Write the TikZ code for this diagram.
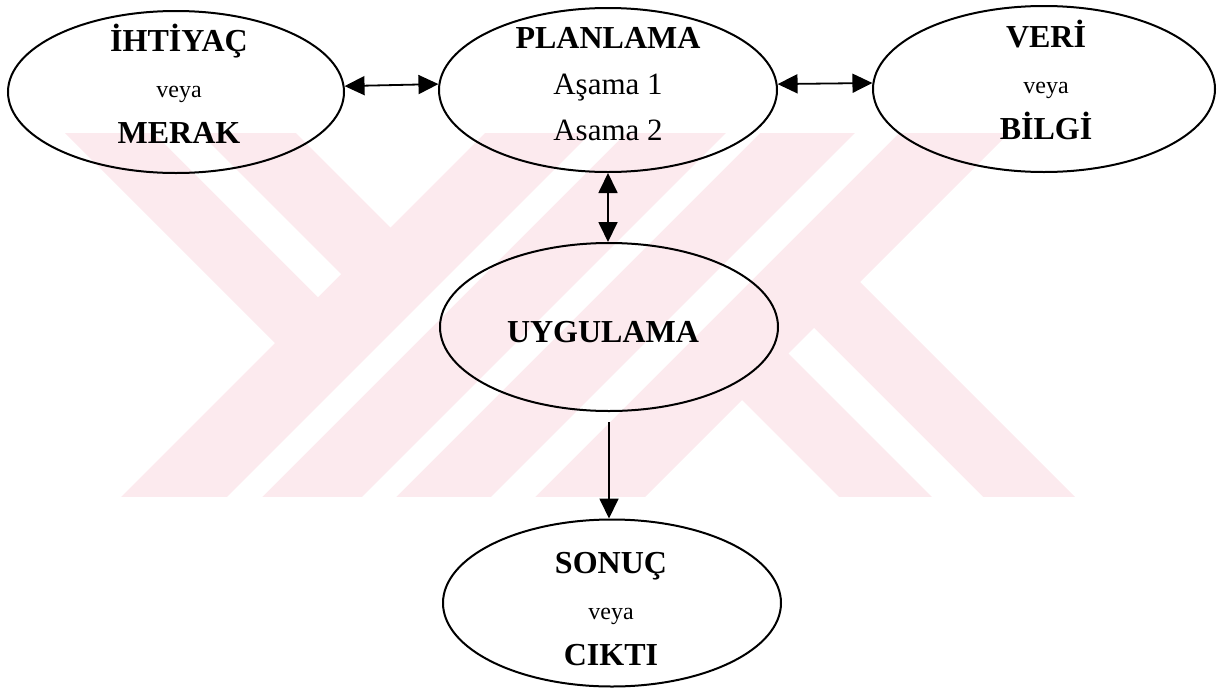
\documentclass[tikz,border=0pt]{standalone}
\usepackage{fontspec}
\setmainfont{Liberation Serif}
\usetikzlibrary{arrows.meta,shapes.geometric}
\definecolor{wmpink}{RGB}{252,234,238}
\newcommand{\smallword}[1]{{\fontsize{24}{46}\selectfont #1}}
\newcommand{\midword}[1]{{\fontsize{31}{46}\selectfont #1}}
\begin{document}
\begin{tikzpicture}[x=1pt,y=-1pt,
  ell/.style={ellipse, draw, line width=2pt, inner sep=0pt},
  txt/.style={align=center, inner sep=0pt, font=\fontsize{32}{46}\selectfont},
  tip/.tip={Triangle[length=20pt,width=19pt]},
  arr/.style={line width=1.8pt, -tip},
  darr/.style={line width=1.8pt, tip-tip}]
\useasboundingbox (0,0) rectangle (1229,691);

% striped background emblem
\begin{scope}
  \clip (0,133) rectangle (1229,496);
  \fill[wmpink] (-68,0) -- (163,0) -- (392.5,229.5) -- (277,345) -- cycle;
  \fill[wmpink] (618,0) -- (1142,0) -- (442,700) -- (-82,700) -- cycle;
  \fill[wmpink] (858,280) -- (1278,700) -- (1042,700) -- (740,398) -- cycle;
  \fill[white] (21,0) -- (67,0) -- (341,274) -- (318,297) -- cycle;
  \fill[white] (724,0) -- (759,0) -- (59,700) -- (24,700) -- cycle;
  \fill[white] (859,0) -- (893,0) -- (193,700) -- (159,700) -- cycle;
  \fill[white] (988,0) -- (1032,0) -- (332,700) -- (288,700) -- cycle;
  \fill[white] (814,328) -- (1186,700) -- (1135,700) -- (788.5,353.5) -- cycle;
\end{scope}

% process stages
\node[ell, minimum width=336pt, minimum height=162pt] (ihtiyac) at (176,92) {};
\node[ell, minimum width=338pt, minimum height=164pt] (planlama) at (608,90) {};
\node[ell, minimum width=342pt, minimum height=166pt] (veri) at (1044,89) {};
\node[ell, minimum width=338pt, minimum height=168pt] (uygulama) at (609,327) {};
\node[ell, minimum width=338pt, minimum height=167pt] (sonuc) at (612,603) {};

% stage labels
\node[txt] (ihtiyac-t) at (179,83.7)
  {\textbf{İHTİYAÇ}\\\smallword{veya}\\\textbf{MERAK}};
\node[txt] (planlama-t) at (608,84.4)
  {\textbf{PLANLAMA}\\\midword{Aşama 1}\\\midword{Asama 2}};
\node[txt] (veri-t) at (1046,79.7)
  {\textbf{VERİ}\\\smallword{veya}\\\textbf{BİLGİ}};
\node[txt] (uygulama-t) at (603,332.5) {\textbf{UYGULAMA}};
\node[txt] (sonuc-t) at (611,609)
  {\textbf{SONUÇ}\\\smallword{veya}\\\textbf{CIKTI}};

% connections
\draw[darr] (ihtiyac.2) -- (planlama.178.6);
\draw[darr] (planlama.2) -- (veri.178.3);
\draw[darr] (planlama.south) -- (planlama.south |- uygulama.north);
\draw[arr] ([yshift=-10pt]uygulama.south) -- (uygulama.south |- sonuc.north);
\end{tikzpicture}
\end{document}
